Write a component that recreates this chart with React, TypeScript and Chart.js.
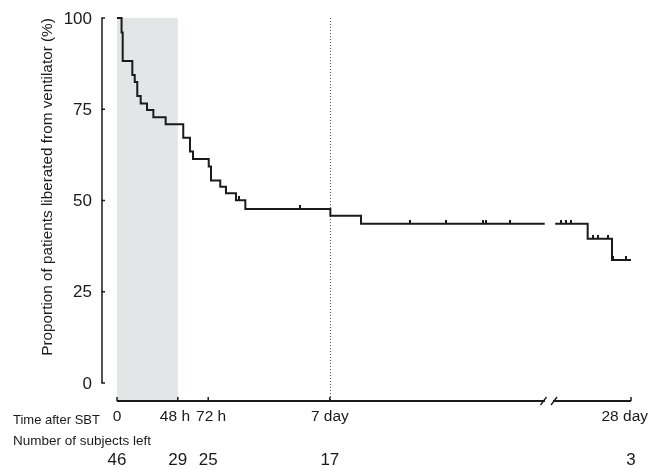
import React, { useEffect, useRef } from 'react';
import { Chart, registerables } from 'chart.js';

Chart.register(...registerables);

// ---- data (time in hours after SBT) ----
const KM_TIME_H = [0, 3.6, 4.5, 12.1, 14.0, 16.0, 18.7, 23.7, 28.7, 38.4, 52.3, 57.6, 60.0, 72.4, 74.2, 81.5, 86.0, 93.9, 101.3, 168.4, 192.6, 337.6, 612.2, 637.8, 657.0, 672.0];
const KM_SURV = [100, 96.0, 88.2, 84.4, 82.5, 78.6, 76.6, 74.8, 72.8, 70.9, 67.2, 63.4, 61.4, 59.3, 55.5, 53.8, 52.0, 50.1, 47.7, 45.8, 43.6, 43.6, 43.6, 39.5, 33.7, 33.7];

const CENSOR_H = [96.3, 144.4, 231.3, 259.9, 288.9, 291.5, 310.4, 616.5, 620.4, 624.4, 642.2, 646.2, 654.1, 658.0, 667.8];
const CENSOR_SURV = [50.1, 47.7, 43.6, 43.6, 43.6, 43.6, 43.6, 43.6, 43.6, 43.6, 39.5, 39.5, 39.5, 33.7, 33.7];

const X_TICK_HOURS = [0, 48, 72, 168, 672];
const X_TICK_LABELS = ['0', '48 h', '72 h', '7 day', '28 day'];
const AT_RISK = [46, 29, 25, 17, 3];
const Y_TICKS = [0, 25, 50, 75, 100];

const SHADE_FROM_H = 0;
const SHADE_TO_H = 48;
const REF_LINE_H = 168;

// axis break (hours hidden between these)
const BREAK_FROM_H = 341;
const BREAK_TO_H = 607.3;

const Y_TITLE = 'Proportion of patients liberated from ventilator (%)';
const ROW1_TITLE = 'Time after SBT';
const ROW2_TITLE = 'Number of subjects left';

const FONT = '"Liberation Sans", Arial, Helvetica, sans-serif';
const INK = '#1a1a1a';

function toAxis(h: number): number {
  if (h <= BREAK_FROM_H) return h;
  return h - (BREAK_TO_H - BREAK_FROM_H);
}

function buildLineData() {
  const pts: { x: number; y: number | null }[] = [];
  for (let i = 0; i < KM_TIME_H.length; i++) {
    if (i > 0 && KM_TIME_H[i - 1] <= BREAK_FROM_H && KM_TIME_H[i] > BREAK_FROM_H) {
      pts.push({ x: toAxis(BREAK_FROM_H), y: null });
    }
    pts.push({ x: toAxis(KM_TIME_H[i]), y: KM_SURV[i] });
  }
  return pts;
}

function censorMark(): HTMLCanvasElement {
  const c = document.createElement('canvas');
  c.width = 2;
  c.height = 8;
  const g = c.getContext('2d')!;
  g.fillStyle = INK;
  g.fillRect(0, 0, 2, 4);
  return c;
}

const kmPlugin = {
  id: 'kmDecor',
  beforeDatasetsDraw(chart: any) {
    const { ctx, chartArea: ca, scales } = chart;
    const xs = scales.x, ys = scales.y;
    const axisY = ca.bottom + 18;
    ctx.save();
    const x0 = xs.getPixelForValue(toAxis(SHADE_FROM_H));
    const x1 = xs.getPixelForValue(toAxis(SHADE_TO_H));
    const top = ys.getPixelForValue(100);
    ctx.fillStyle = '#e3e6e7';
    ctx.fillRect(x0, top, x1 - x0, axisY - 1 - top);
    const xr = Math.round(xs.getPixelForValue(toAxis(REF_LINE_H))) + 0.5;
    ctx.strokeStyle = '#555';
    ctx.lineWidth = 1;
    ctx.setLineDash([1, 2]);
    ctx.beginPath();
    ctx.moveTo(xr, top);
    ctx.lineTo(xr, axisY);
    ctx.stroke();
    ctx.restore();
  },
  afterDraw(chart: any) {
    const { ctx, chartArea: ca, scales } = chart;
    const xs = scales.x, ys = scales.y;
    ctx.save();
    ctx.strokeStyle = INK;
    ctx.fillStyle = INK;
    ctx.setLineDash([]);

    // ---- y axis ----
    const yAxisX = ca.left - 15;
    ctx.lineWidth = 1.5;
    ctx.beginPath();
    ctx.moveTo(yAxisX, ys.getPixelForValue(100));
    ctx.lineTo(yAxisX, ys.getPixelForValue(0));
    ctx.stroke();
    const yt = (ys.ticks && ys.ticks.length ? ys.ticks.map((t: any) => t.value) : Y_TICKS);
    ctx.font = `17px ${FONT}`;
    ctx.textAlign = 'right';
    ctx.textBaseline = 'middle';
    yt.forEach((v: number) => {
      const y = ys.getPixelForValue(v);
      ctx.beginPath();
      ctx.moveTo(yAxisX - 0.75, y);
      ctx.lineTo(yAxisX + 3, y);
      ctx.stroke();
      ctx.fillText(String(v), yAxisX - 10, y + 1);
    });

    // y title
    ctx.save();
    ctx.translate(48, 187);
    ctx.rotate(-Math.PI / 2);
    ctx.font = `15.3px ${FONT}`;
    ctx.textAlign = 'center';
    ctx.textBaseline = 'middle';
    ctx.fillText(Y_TITLE, 0, 0);
    ctx.restore();

    // ---- x axis with break ----
    const axisY = ca.bottom + 18;
    const xl = xs.getPixelForValue(toAxis(0));
    const xrEnd = xs.getPixelForValue(toAxis(672));
    const bp = xs.getPixelForValue(toAxis(BREAK_FROM_H));
    ctx.lineWidth = 2;
    ctx.beginPath();
    ctx.moveTo(xl, axisY);
    ctx.lineTo(bp - 4, axisY);
    ctx.moveTo(bp + 4, axisY);
    ctx.lineTo(xrEnd, axisY);
    ctx.stroke();
    ctx.lineWidth = 1.3;
    [bp - 5.5, bp + 5].forEach((cx) => {
      ctx.beginPath();
      ctx.moveTo(cx - 3, axisY + 4);
      ctx.lineTo(cx + 3, axisY - 4);
      ctx.stroke();
    });
    ctx.lineWidth = 1.5;
    ctx.font = `15.5px ${FONT}`;
    ctx.textAlign = 'center';
    ctx.textBaseline = 'alphabetic';
    const tickX = X_TICK_HOURS.map((h) => xs.getPixelForValue(toAxis(h)));
    const widths = X_TICK_LABELS.map((s) => ctx.measureText(s).width);
    const centers = tickX.map((x, i) => Math.min(x, chart.width - 3 - widths[i] / 2));
    // separate labels that would touch
    for (let i = 1; i < centers.length; i++) {
      const gap = (centers[i] - widths[i] / 2) - (centers[i - 1] + widths[i - 1] / 2);
      const minGap = 6;
      if (gap < minGap) {
        const d = (minGap - gap) / 2;
        centers[i - 1] -= d;
        centers[i] += d;
      }
    }
    tickX.forEach((x, i) => {
      ctx.beginPath();
      ctx.moveTo(x, axisY);
      ctx.lineTo(x, axisY - 4);
      ctx.stroke();
      ctx.fillText(X_TICK_LABELS[i], centers[i], axisY + 20);
    });

    // row titles
    ctx.textAlign = 'left';
    ctx.font = `13px ${FONT}`;
    ctx.fillText(ROW1_TITLE, 13, axisY + 23);
    ctx.font = `13.5px ${FONT}`;
    ctx.fillText(ROW2_TITLE, 13, axisY + 44);

    // numbers at risk
    ctx.textAlign = 'center';
    ctx.font = `17px ${FONT}`;
    tickX.forEach((x, i) => {
      ctx.fillText(String(AT_RISK[i]), x, axisY + 64);
    });
    ctx.restore();
  },
};

export default function App() {
  const ref = useRef<HTMLCanvasElement | null>(null);
  useEffect(() => {
    if (!ref.current) return;
    const chart = new Chart(ref.current, {
      type: 'line',
      data: {
        datasets: [
          {
            label: 'KM',
            data: buildLineData() as any,
            stepped: 'before',
            borderColor: INK,
            borderWidth: 2,
            pointRadius: 0,
            fill: false,
            spanGaps: false,
            clip: false as any,
          },
          {
            label: 'Censored',
            type: 'scatter' as any,
            data: CENSOR_H.map((h, i) => ({ x: toAxis(h), y: CENSOR_SURV[i] })),
            pointStyle: censorMark() as any,
            pointRadius: 4,
            showLine: false,
            clip: false as any,
          },
        ],
      },
      options: {
        animation: false,
        responsive: false,
        devicePixelRatio: 1,
        layout: { padding: { left: 117, right: 20, top: 18, bottom: 87 } },
        plugins: { legend: { display: false }, tooltip: { enabled: false }, title: { display: false } },
        scales: {
          x: { type: 'linear', min: 0, max: toAxis(672), display: false },
          y: { type: 'linear', min: 0, max: 100, ticks: { stepSize: 25 }, display: false },
        },
      },
      plugins: [kmPlugin],
    });
    return () => chart.destroy();
  }, []);
  return (
    <div style={{ position: 'absolute', left: 0, top: 0, width: 651, height: 470, background: '#fff' }}>
      <canvas ref={ref} width={651} height={470} style={{ display: 'block' }} />
    </div>
  );
}
